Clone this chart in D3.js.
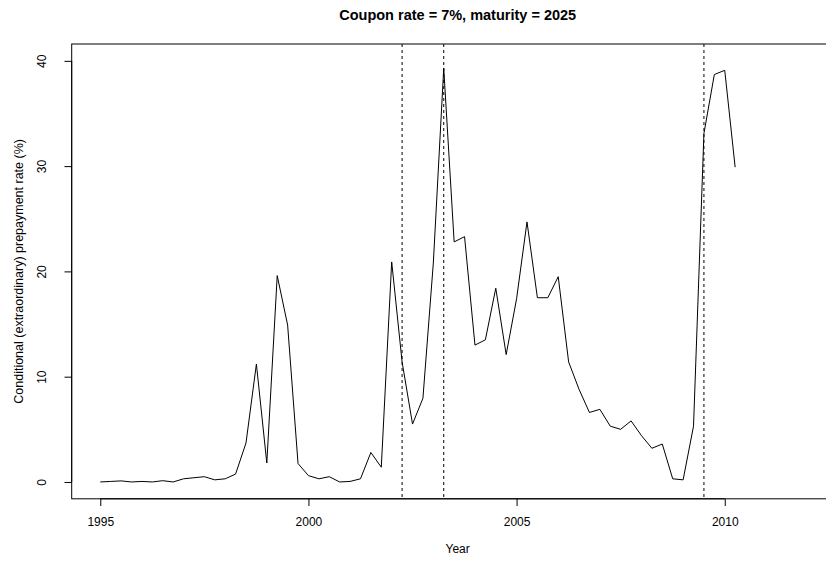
<!DOCTYPE html>
<html>
<head>
<meta charset="utf-8">
<script src="https://cdn.jsdelivr.net/npm/d3@7"></script>
<style>
  html, body { margin: 0; padding: 0; background: #fff; }
  svg { display: block; }
  text { font-family: "Liberation Sans", Arial, Helvetica, sans-serif; fill: #000; }
</style>
</head>
<body>
<svg id="chart" width="826" height="561"></svg>
<script>
// ---- data (quarterly observations) ----
const startYear = 1995;
const cpr = [
  0.0, 0.05, 0.1, 0.0,
  0.05, 0.0, 0.12, 0.0,
  0.3, 0.4, 0.5, 0.2,
  0.3, 0.75, 3.7, 11.2,
  1.8, 19.6, 14.9, 1.75,
  0.6, 0.3, 0.5, 0.0,
  0.05, 0.3, 2.8, 1.4,
  20.9, 11.4, 5.5, 7.95,
  20.8, 39.3, 22.8, 23.3,
  13.0, 13.5, 18.4, 12.1,
  17.4, 24.7, 17.5, 17.5,
  19.5, 11.4, 8.8, 6.6,
  6.9, 5.3, 5.0, 5.8,
  4.4, 3.2, 3.6, 0.3,
  0.2, 5.3, 33.1, 38.7,
  39.1, 29.9
];
const years = cpr.map((_, i) => startYear + i / 4);
const eventYears = [2002.25, 2003.25, 2009.5];
const xTicks = [1995, 2000, 2005, 2010];
const yTicks = [0, 10, 20, 30, 40];
const xlim = [1995, 2012.17];
const ylim = [0, 40];
const titleText = "Coupon rate = 7%, maturity = 2025";
const xLabel = "Year";
const yLabel = "Conditional (extraordinary) prepayment rate (%)";

// ---- layout ----
const box = { left: 71.7, top: 44, bottom: 498.8 };
const pxPerYear = 41.63;
const xPad = (xlim[1] - xlim[0]) * 0.04;
const yPad = (ylim[1] - ylim[0]) * 0.04;
const usrX = [xlim[0] - xPad, xlim[1] + xPad];
const usrY = [ylim[0] - yPad, ylim[1] + yPad];
box.right = box.left + (usrX[1] - usrX[0]) * pxPerYear;

const x = d3.scaleLinear().domain(usrX).range([box.left, box.right]);
const y = d3.scaleLinear().domain(usrY).range([box.bottom, box.top]);

const svg = d3.select("#chart");

// plot box
svg.append("rect")
  .attr("x", box.left).attr("y", box.top)
  .attr("width", box.right - box.left).attr("height", box.bottom - box.top)
  .attr("fill", "none").attr("stroke", "#000").attr("stroke-width", 1);

// x axis
const xAxis = d3.axisBottom(x).tickValues(xTicks).tickFormat(d3.format("d"))
  .tickSizeInner(7.2).tickSizeOuter(0).tickPadding(0);
const gx = svg.append("g").attr("transform", `translate(0,${box.bottom})`).call(xAxis);
gx.select(".domain").attr("d", `M${x(xTicks[0])},0H${x(xTicks[xTicks.length-1])}`).attr("stroke", "#000");
gx.selectAll(".tick line").attr("stroke", "#000");
gx.selectAll(".tick text").attr("y", 0).attr("dy", null)
  .attr("transform", "translate(0,27.5)")
  .attr("font-size", 12).attr("font-family", "Liberation Sans, Arial, sans-serif").attr("fill", "#000");

// y axis
const yAxis = d3.axisLeft(y).tickValues(yTicks).tickFormat(d3.format("d"))
  .tickSizeInner(7.2).tickSizeOuter(0).tickPadding(0);
const gy = svg.append("g").attr("transform", `translate(${box.left},0)`).call(yAxis);
gy.select(".domain").attr("d", `M0,${y(yTicks[0])}V${y(yTicks[yTicks.length-1])}`).attr("stroke", "#000");
gy.selectAll(".tick line").attr("stroke", "#000");
gy.selectAll(".tick text")
  .attr("x", null).attr("dy", null)
  .attr("text-anchor", "middle")
  .attr("transform", `translate(${46 - box.left},0) rotate(-90)`)
  .attr("font-size", 12).attr("font-family", "Liberation Sans, Arial, sans-serif").attr("fill", "#000");

// event lines
svg.append("g").selectAll("line").data(eventYears).join("line")
  .attr("x1", d => x(d)).attr("x2", d => x(d))
  .attr("y1", box.top).attr("y2", box.bottom)
  .attr("stroke", "#000").attr("stroke-width", 1)
  .attr("stroke-dasharray", "3,3");

// data line
const line = d3.line().x((d, i) => x(years[i])).y(d => y(d));
svg.append("path").datum(cpr)
  .attr("d", line)
  .attr("fill", "none").attr("stroke", "#000").attr("stroke-width", 1)
  .attr("stroke-linejoin", "round");

// titles
const cx = (box.left + box.right) / 2;
svg.append("text").attr("x", cx).attr("y", 19.5)
  .attr("text-anchor", "middle").attr("font-size", 14.5).attr("font-weight", "bold")
  .text(titleText);
svg.append("text").attr("x", cx).attr("y", 553)
  .attr("text-anchor", "middle").attr("font-size", 12)
  .text(xLabel);
svg.append("text")
  .attr("transform", `translate(23,${(box.top + box.bottom) / 2}) rotate(-90)`)
  .attr("text-anchor", "middle").attr("font-size", 12.5)
  .text(yLabel);
</script>
</body>
</html>
